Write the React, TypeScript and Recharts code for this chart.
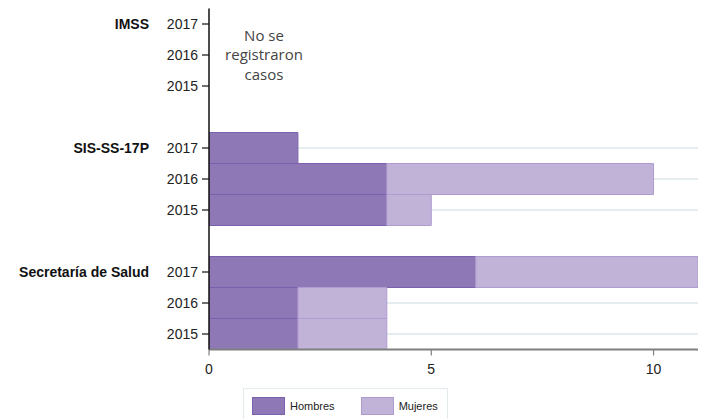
import { Bar, BarChart, Legend, ReferenceLine, XAxis, YAxis } from 'recharts'

const groups = ['IMSS', 'SIS-SS-17P', 'Secretaría de Salud']
const years = ['2017', '2016', '2015']
const hombres = [
  [0, 0, 0],
  [2, 4, 4],
  [6, 2, 2],
]
const mujeres = [
  [0, 0, 0],
  [0, 6, 1],
  [5, 2, 2],
]
const xTicks = [0, 5, 10]
const noCasesLines = ['No se', 'registraron', 'casos']

const hombresFill = '#8e78b6'
const hombresStroke = '#7b60ae'
const mujeresFill = '#c1b3d8'
const mujeresStroke = '#ae9bcf'
const gridColor = '#e6edf1'
const font = '"Liberation Sans", Arial, sans-serif'

type Row = { key: string; group: string; year: string; hombres: number; mujeres: number }

// one row per year, with an empty spacer row between institutions
const rows: Row[] = []
groups.forEach((g, gi) => {
  if (gi > 0) rows.push({ key: `gap-${gi}`, group: '', year: '', hombres: 0, mujeres: 0 })
  years.forEach((y, yi) => {
    rows.push({ key: `${g}-${y}`, group: g, year: y, hombres: hombres[gi][yi], mujeres: mujeres[gi][yi] })
  })
})
const rowByKey: Record<string, Row> = Object.fromEntries(rows.map((r) => [r.key, r]))

function YTick({ x, y, payload }: any) {
  const row = rowByKey[payload.value]
  if (!row || !row.year) return null
  return (
    <g>
      <line x1={x + 4} x2={x + 11} y1={y} y2={y} stroke="#111" strokeWidth={1.2} />
      <text x={x} y={y} dy="0.36em" textAnchor="end" fontSize={14} fill="#222" fontFamily={font}>
        {row.year}
      </text>
      {row.year === '2017' && (
        <text x={x - 49} y={y} dy="0.36em" textAnchor="end" fontSize={14} fontWeight="bold" fill="#111" fontFamily={font}>
          {row.group}
        </text>
      )}
    </g>
  )
}

// gridline through the middle of each real row, drawn under the bars
function RowGrid(props: any) {
  const row = rows[props.index]
  if (!row || !row.year) return null
  const cy = props.y + props.height / 2
  return <line x1={props.x} x2={props.x + props.width} y1={cy} y2={cy} stroke={gridColor} strokeWidth={2} />
}

function NoCasesLabel({ viewBox }: any) {
  const cx = viewBox.x + 55
  const cy = viewBox.y
  return (
    <g>
      <rect x={cx - 46} y={cy - 9} width={92} height={18} fill="#fff" />
      {noCasesLines.map((t, i) => (
        <text
          key={t}
          x={cx}
          y={cy + (i - 1) * 19.5}
          dy="0.36em"
          textAnchor="middle"
          fontSize={15}
          fill="#444"
          fontFamily='"Open Sans", sans-serif'
        >
          {t}
        </text>
      ))}
    </g>
  )
}

function LegendBox() {
  const items = [
    { name: 'Hombres', fill: hombresFill, stroke: hombresStroke },
    { name: 'Mujeres', fill: mujeresFill, stroke: mujeresStroke },
  ]
  return (
    <div
      style={{
        boxSizing: 'border-box',
        height: 32,
        border: '1px solid #e3ebee',
        display: 'flex',
        alignItems: 'center',
        paddingLeft: 8,
        paddingTop: 4,
        fontFamily: font,
        fontSize: 11,
        color: '#222',
      }}
    >
      {items.map((it, i) => (
        <div key={it.name} style={{ display: 'flex', alignItems: 'center', marginRight: i === 0 ? 26 : 0 }}>
          <span
            style={{
              display: 'inline-block',
              boxSizing: 'border-box',
              width: 33,
              height: 18,
              background: it.fill,
              border: `1px solid ${it.stroke}`,
              marginRight: 5,
            }}
          />
          {it.name}
        </div>
      ))}
    </div>
  )
}

export default function App() {
  return (
    <div style={{ position: 'absolute', left: 0, top: 0, width: 706, height: 419, background: '#fff' }}>
      <BarChart
        width={706}
        height={419}
        data={rows}
        layout="vertical"
        barCategoryGap={0}
        margin={{ top: 8.5, right: 8, left: 0, bottom: 7.5 }}
      >
        <XAxis
          type="number"
          domain={[0, 11]}
          ticks={xTicks}
          allowDataOverflow
          height={30}
          tickSize={6}
          tickMargin={9}
          axisLine={{ stroke: '#7f7f7f', strokeWidth: 2 }}
          tickLine={{ stroke: '#7f7f7f', strokeWidth: 1.2 }}
          tick={{ fontSize: 14, fill: '#222', fontFamily: font }}
        />
        <YAxis
          type="category"
          dataKey="key"
          width={209}
          interval={0}
          tickSize={7}
          tickMargin={4}
          tickLine={false}
          axisLine={{ stroke: '#111', strokeWidth: 1.5 }}
          tick={<YTick />}
        />
        <Bar
          dataKey="hombres"
          name="Hombres"
          stackId="a"
          fill={hombresFill}
          stroke={hombresStroke}
          background={(p: any) => <RowGrid key={`grid-${p.index}`} {...p} />}
          isAnimationActive={false}
        />
        <Bar dataKey="mujeres" name="Mujeres" stackId="a" fill={mujeresFill} stroke={mujeresStroke} isAnimationActive={false} />
        <ReferenceLine y="IMSS-2016" stroke="none" label={<NoCasesLabel />} />
        <Legend
          content={<LegendBox />}
          wrapperStyle={{ position: 'absolute', left: 243, top: 387.5, width: 205, height: 32 }}
        />
      </BarChart>
    </div>
  )
}
